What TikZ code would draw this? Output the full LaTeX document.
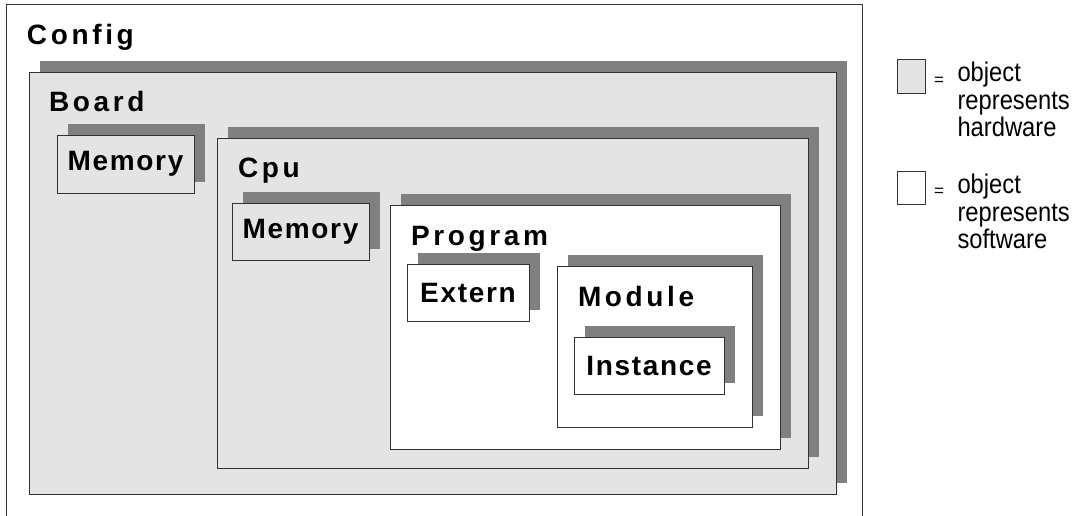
\documentclass[tikz,border=0pt]{standalone}
\usepackage{fontspec}
\setmainfont{Liberation Sans}
\newfontfamily\titlefont[LetterSpace=13]{Liberation Sans}
\newfontfamily\boxfont[LetterSpace=6]{Liberation Sans}
\newfontfamily\legendfont[FakeStretch=0.88]{Liberation Sans}
\usetikzlibrary{shadows}
\definecolor{hwgray}{RGB}{228,228,228}
\definecolor{shadowgray}{RGB}{128,128,128}
\definecolor{edgegray}{RGB}{50,50,50}

\begin{document}
\begin{tikzpicture}[x=1pt,y=-1pt,line width=1pt,
	objbox/.style={draw=edgegray,inner sep=0pt,drop shadow={shadow xshift=11pt,shadow yshift=11pt,fill=shadowgray,opacity=1}},
	hw/.style={objbox,fill=hwgray},
	sw/.style={objbox,fill=white},
	title/.style={anchor=base west,inner sep=0pt,font=\titlefont\bfseries\fontsize{28}{28}\selectfont},
	lbl/.style={font=\boxfont\bfseries\fontsize{28}{28}\selectfont},
	legend/.style={anchor=base west,inner sep=0pt,align=left,font=\legendfont\fontsize{27}{27.5}\selectfont},
	key/.style={draw=edgegray,inner sep=0pt,minimum width=28,minimum height=34}]

	\useasboundingbox (0,0) rectangle (1081,515);

	\node[draw=edgegray,fill=white,inner sep=0pt,minimum width=856,minimum height=514] at (434,261) (config) {};
	\node[title] at ([shift={(21,41)}]config.north west) (configTitle) {Config};

	\node[hw,minimum width=807,minimum height=422] at (432.5,283) (board) {};
	\node[title] at ([shift={(20,40)}]board.north west) (boardTitle) {Board};
	\node[hw,lbl,minimum width=137,minimum height=58] at (125.5,164) (boardMem) {Memory};

	\node[hw,minimum width=591,minimum height=330] at (512.5,303) (cpu) {};
	\node[title] at ([shift={(21,40)}]cpu.north west) (cpuTitle) {Cpu};
	\node[hw,lbl,minimum width=137,minimum height=57] at (300.5,231.5) (cpuMem) {Memory};

	\node[sw,minimum width=390,minimum height=244] at (585,327) (program) {};
	\node[title] at ([shift={(21,41)}]program.north west) (programTitle) {Program};
	\node[sw,lbl,minimum width=122,minimum height=57] at (468,292.5) (extern) {Extern};

	\node[sw,minimum width=195,minimum height=161] at (654.5,346.5) (module) {};
	\node[title] at ([shift={(21,41)}]module.north west) (moduleTitle) {Module};
	\node[sw,lbl,minimum width=150,minimum height=57] at (649,365.5) (instance) {Instance};

	\node[key,fill=hwgray] at (911,76.5) (hwKey) {};
	\node[font=\fontsize{17}{17}\selectfont,inner sep=0pt] at (939,81) (hwEq) {=};
	\node[legend] at (957,136.7) (hwText) {object\\represents\\hardware};

	\node[key,fill=white,minimum height=33] at (911,187.7) (swKey) {};
	\node[font=\fontsize{17}{17}\selectfont,inner sep=0pt] at (939,192.5) (swEq) {=};
	\node[legend] at (957,248.5) (swText) {object\\represents\\software};

\end{tikzpicture}
\end{document}
